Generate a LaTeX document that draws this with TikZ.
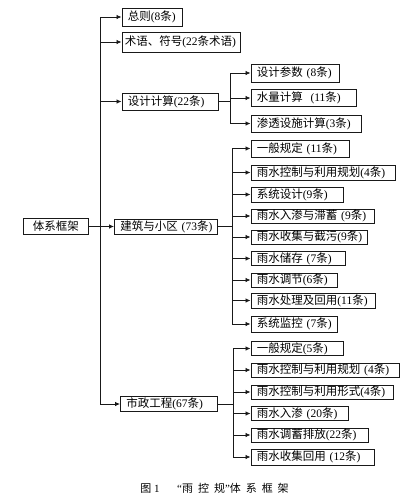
\documentclass[tikz,border=0pt]{standalone}
\usepackage{fontspec}
\setmainfont{Liberation Serif}
\newfontfamily\cjk{Noto Sans CJK SC}
\newfontfamily\cjkcap{Noto Sans CJK SC}[LetterSpace=45]
\newcommand\zh[1]{{\cjk #1}}
\usetikzlibrary{arrows.meta}
\tikzset{
  bx/.style={draw, anchor=west, inner xsep=6pt, inner ysep=0pt, align=left,
    font=\fontsize{11.5}{13}\selectfont},
  arr/.style={-{Latex[length=5pt,width=4.5pt]}},
}
\begin{document}
\begin{tikzpicture}[x=1pt, y=-1pt, line width=0.75pt, draw={black!90}]
\useasboundingbox[fill=white] (0,0) rectangle (411,498);

% root
\node[draw, anchor=west, minimum width=65pt, minimum height=16pt, inner sep=0pt,
  font=\fontsize{11.5}{13}\selectfont] (root) at (23,226.5) {\zh{体系框架}};

% level 1
\node[bx, text width=48pt, minimum height=18pt] (zz) at (121.5,17) {\zh{总则}(8\zh{条})};
\node[bx, inner xsep=3pt, text width=112.5pt, minimum height=20pt] (sy) at (121.5,42) {\zh{术语、符号}(22\zh{条术语})};
\node[bx, text width=84.5pt, minimum height=17pt] (sj) at (121.5,101.5) {\zh{设计计算}(22\zh{条})};
\node[bx, text width=91pt, minimum height=15pt] (jz) at (114,226.5) {\zh{建筑与小区}~(73\zh{条})};
\node[bx, text width=85pt, minimum height=15pt] (sz) at (120,404) {\zh{市政工程}(67\zh{条})};

% level 2: design calculation
\node[bx, text width=76pt, minimum height=18pt] (c1) at (250.5,73) {\zh{设计参数}~(8\zh{条})};
\node[bx, text width=93pt, minimum height=17pt] (c2) at (250.5,98) {\zh{水量计算}~~(11\zh{条})};
\node[bx, text width=98pt, minimum height=17pt] (c3) at (250.5,123.5) {\zh{渗透设施计算}(3\zh{条})};

% level 2: buildings and districts
\node[bx, text width=86pt, minimum height=17pt] (d1) at (250.5,148.5) {\zh{一般规定}~(11\zh{条})};
\node[bx, text width=132pt, minimum height=15pt] (d2) at (250.5,172.5) {\zh{雨水控制与利用规划}(4\zh{条})};
\node[bx, text width=80pt, minimum height=15pt] (d3) at (250.5,194.5) {\zh{系统设计}(9\zh{条})};
\node[bx, text width=111pt, minimum height=14pt] (d4) at (250.5,216) {\zh{雨水入渗与滞蓄}~(9\zh{条})};
\node[bx, text width=104pt, minimum height=14pt] (d5) at (250.5,237) {\zh{雨水收集与截污}(9\zh{条})};
\node[bx, text width=82pt, minimum height=14pt] (d6) at (250.5,258.5) {\zh{雨水储存}~(7\zh{条})};
\node[bx, text width=74pt, minimum height=14pt] (d7) at (250.5,280) {\zh{雨水调节}(6\zh{条})};
\node[bx, text width=112pt, minimum height=15pt] (d8) at (250.5,300.5) {\zh{雨水处理及回用}(11\zh{条})};
\node[bx, text width=74pt, minimum height=16pt] (d9) at (250.5,324) {\zh{系统监控}~(7\zh{条})};

% level 2: municipal engineering
\node[bx, text width=80pt, minimum height=14pt] (e1) at (250.5,348.5) {\zh{一般规定}(5\zh{条})};
\node[bx, text width=136pt, minimum height=14pt] (e2) at (250.5,370) {\zh{雨水控制与利用规划}~(4\zh{条})};
\node[bx, text width=130pt, minimum height=14pt] (e3) at (250.5,392) {\zh{雨水控制与利用形式}(4\zh{条})};
\node[bx, text width=85pt, minimum height=14pt] (e4) at (250.5,413.5) {\zh{雨水入渗}~(20\zh{条})};
\node[bx, text width=105pt, minimum height=14pt] (e5) at (250.5,435) {\zh{雨水调蓄排放}(22\zh{条})};
\node[bx, text width=111pt, minimum height=16pt] (e6) at (250.5,457) {\zh{雨水收集回用}~(12\zh{条})};

% trunk
\coordinate (T) at (100,0);
\draw (T |- zz.west) -- (T |- sz.west);
\foreach \n in {zz,sy,sj,sz} \draw[arr] (T |- \n.west) -- (\n.west);
\draw[arr] (root.east) -- (jz.west);

% branch A
\coordinate (A) at (230,0);
\draw (sj.east) -- (A |- sj.east);
\draw (A |- c1.west) -- (A |- c3.west);
\foreach \n in {c1,c2,c3} \draw[arr] (A |- \n.west) -- (\n.west);

% branch B
\coordinate (B) at (232,0);
\draw (jz.east) -- (B |- jz.east);
\draw (B |- d1.west) -- (B |- d9.west);
\foreach \n in {d1,d2,d3,d4,d5,d6,d7,d8,d9} \draw[arr] (B |- \n.west) -- (\n.west);

% branch C
\coordinate (C) at (233,0);
\draw (sz.east) -- (C |- sz.east);
\draw (C |- e1.west) -- (C |- e6.west);
\foreach \n in {e1,e2,e3,e4,e5,e6} \draw[arr] (C |- \n.west) -- (\n.west);

% caption
\node[inner sep=0pt, anchor=west, font=\fontsize{11}{12}\selectfont] (cap) at (140,488)
  {{\cjkcap 图}~1\hspace{1.6em}“{\cjkcap 雨控规}”{\cjkcap 体系框架}};
\end{tikzpicture}
\end{document}
